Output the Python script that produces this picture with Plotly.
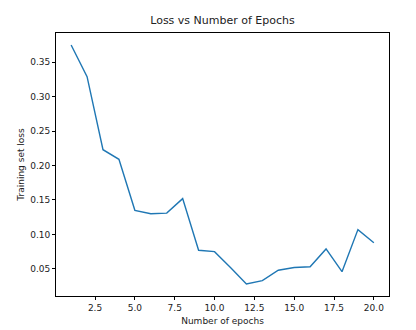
import plotly.graph_objects as go

# Training loss recorded after each epoch
epochs = list(range(1, 21))
loss = [0.375, 0.329, 0.223, 0.209, 0.135, 0.130, 0.131, 0.152, 0.077, 0.075,
        0.052, 0.028, 0.033, 0.048, 0.052, 0.053, 0.079, 0.046, 0.107, 0.088]

x_ticks = [2.5, 5.0, 7.5, 10.0, 12.5, 15.0, 17.5, 20.0]
y_ticks = [0.05, 0.10, 0.15, 0.20, 0.25, 0.30, 0.35]

font = "DejaVu Sans"

fig = go.Figure(
    go.Scatter(x=epochs, y=loss, mode="lines",
               line=dict(color="#1f77b4", width=1.4))
)

# 5% padding around the data, like matplotlib's default margins
xpad = (max(epochs) - min(epochs)) * 0.05
ypad = (max(loss) - min(loss)) * 0.05

axis_common = dict(
    showgrid=False, zeroline=False, showline=True, linecolor="black",
    linewidth=0.8, mirror=True, ticks="outside", ticklen=3, tickwidth=0.8,
    tickcolor="black", tickfont=dict(family=font, size=9, color="#222"),
    automargin=False,
)

fig.update_layout(
    width=416, height=330,
    margin=dict(l=56, r=27, t=33, b=34),
    paper_bgcolor="white", plot_bgcolor="white",
    showlegend=False,
    title=dict(text="Loss vs Number of Epochs", x=(56 + 389) / 2 / 416,
               xanchor="center", y=1 - 20 / 330, yanchor="middle",
               font=dict(family=font, size=11, color="#222")),
    xaxis=dict(axis_common, range=[min(epochs) - xpad, max(epochs) + xpad],
               tickvals=x_ticks, ticktext=[f"{v:.1f}" for v in x_ticks],
               title=dict(text="Number of epochs", standoff=5,
                          font=dict(family=font, size=9, color="#222"))),
    yaxis=dict(axis_common, range=[min(loss) - ypad, max(loss) + ypad],
               tickvals=y_ticks, ticktext=[f"{v:.2f}" for v in y_ticks],
               title=dict(text="Training set loss", standoff=4,
                          font=dict(family=font, size=9, color="#222"))),
)

fig.write_html("out.html")
